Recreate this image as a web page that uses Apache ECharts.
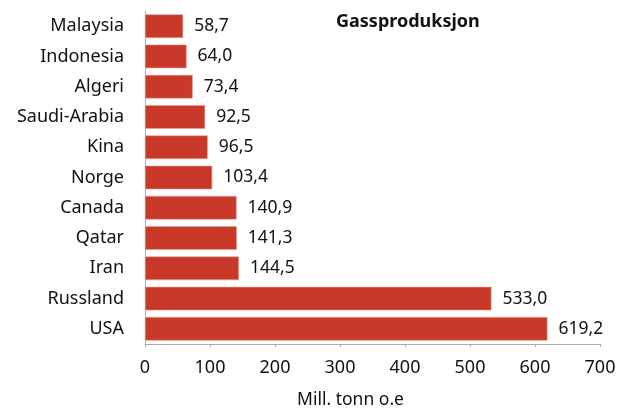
<!DOCTYPE html>
<html>
<head>
<meta charset="utf-8">
<script src="https://cdn.jsdelivr.net/npm/echarts@6/dist/echarts.min.js"></script>
<style>
  html, body { margin: 0; padding: 0; background: #fff; }
  #chart { width: 622px; height: 408px; }
</style>
</head>
<body>
<div id="chart"></div>
<script>
// Natural gas production by country (million tonnes oil equivalent)
const countries = ['Malaysia', 'Indonesia', 'Algeri', 'Saudi-Arabia', 'Kina', 'Norge', 'Canada', 'Qatar', 'Iran', 'Russland', 'USA'];
const production = [58.7, 64.0, 73.4, 92.5, 96.5, 103.4, 140.9, 141.3, 144.5, 533.0, 619.2];
const xTicks = [0, 100, 200, 300, 400, 500, 600, 700];

const fontFamily = '"Noto Sans", "Open Sans", sans-serif';
const fmt = v => v.toFixed(1).replace('.', ',');

const chart = echarts.init(document.getElementById('chart'), null, { renderer: 'canvas' });
chart.setOption({
  animation: false,
  title: {
    text: 'Gassproduksjon',
    left: 331,
    top: 8,
    textStyle: { fontFamily, fontSize: 18, fontWeight: 'bold', color: '#111' }
  },
  grid: { left: 145, right: 22, top: 11, bottom: 64, containLabel: false, outerBoundsMode: 'none' },
  xAxis: {
    type: 'value',
    min: xTicks[0],
    max: xTicks[xTicks.length - 1],
    interval: 100,
    name: 'Mill. tonn o.e',
    nameLocation: 'middle',
    nameGap: 47,
    nameTextStyle: { fontFamily, fontSize: 17.5, color: '#111', padding: [0, 44, 0, 0] },
    axisLine: { show: true, lineStyle: { color: '#aaa', width: 1 } },
    axisTick: { show: true, length: 3, lineStyle: { color: '#aaa' } },
    splitLine: { show: false },
    axisLabel: { fontFamily, fontSize: 18, color: '#111', margin: 15 }
  },
  yAxis: {
    type: 'category',
    data: countries,
    inverse: true,
    axisLine: { show: true, lineStyle: { color: '#aaa', width: 1 } },
    axisTick: { show: false },
    axisLabel: { fontFamily, fontSize: 18, color: '#111', margin: 21 }
  },
  series: [{
    type: 'bar',
    data: production,
    barCategoryGap: '22%',
    itemStyle: { color: '#c8392a', borderColor: '#e6a090', borderWidth: 0.6 },
    label: {
      show: true,
      position: 'right',
      distance: 11,
      fontFamily,
      fontSize: 17.5,
      color: '#111',
      formatter: p => fmt(p.value)
    }
  }]
});
</script>
</body>
</html>
